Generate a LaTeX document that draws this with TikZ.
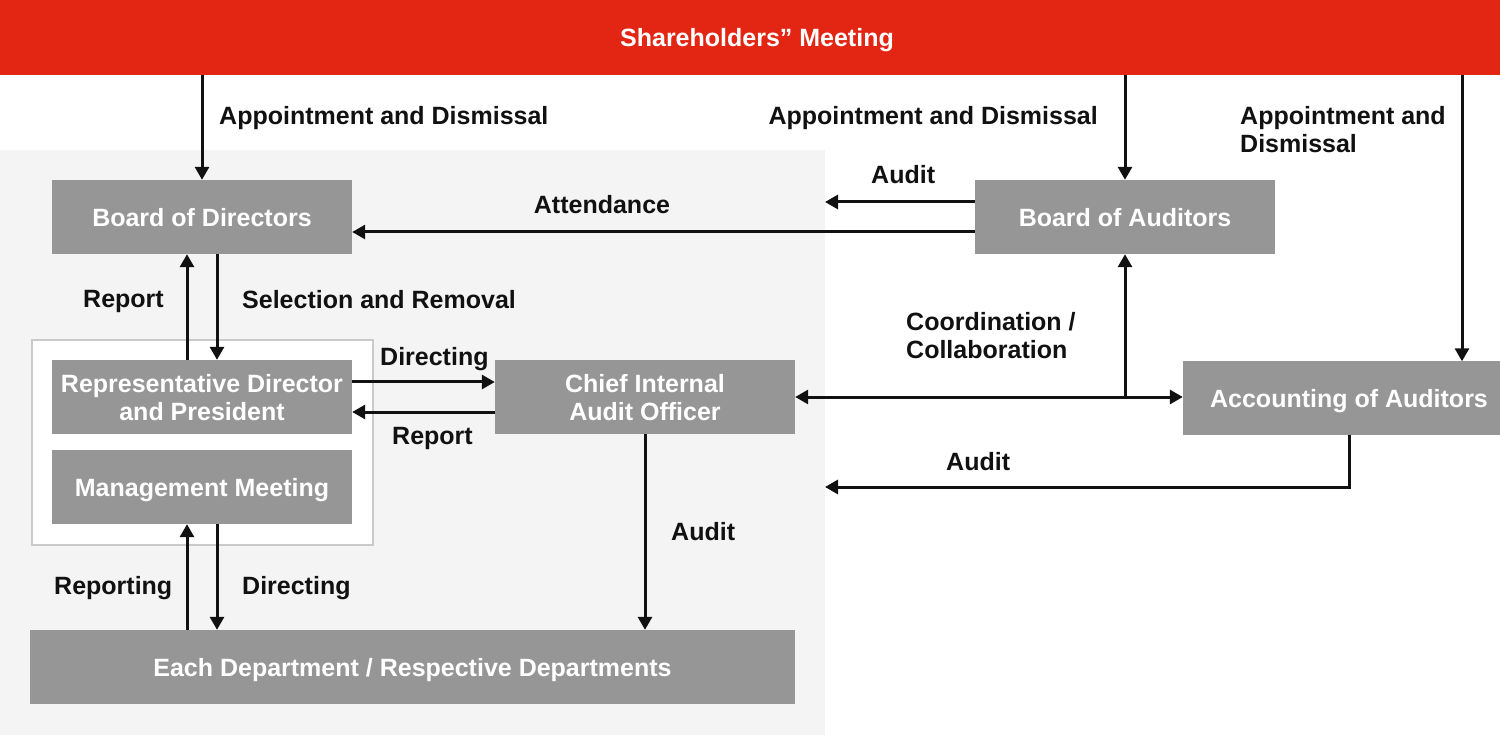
\documentclass[tikz,border=0pt]{standalone}
\usepackage{fontspec}
\setmainfont{Liberation Sans}
\usetikzlibrary{arrows.meta}
\definecolor{redbar}{HTML}{E32613}
\definecolor{boxgray}{HTML}{969696}
\definecolor{bggray}{HTML}{F4F4F4}
\definecolor{framegray}{HTML}{CACACA}
\definecolor{ink}{HTML}{111111}
\begin{document}
\begin{tikzpicture}[x=1pt,y=-1pt,
  font=\fontsize{25}{28}\selectfont\bfseries,
  box/.style={fill=boxgray,text=white,inner sep=0pt,align=center,minimum height=74pt,text depth=0pt},
  lbl/.style={text=ink,inner sep=0pt,align=left,text depth=0pt},
  arr/.style={draw=ink,line width=3pt,-{Triangle[length=13pt,width=14pt]}},
  dbl/.style={draw=ink,line width=3pt,{Triangle[length=13pt,width=14pt]}-{Triangle[length=13pt,width=14pt]}},
  ln/.style={draw=ink,line width=3pt}]
\useasboundingbox (0,0) rectangle (1500,735);
\fill[white] (0,0) rectangle (1500,735);
\fill[bggray] (0,150) rectangle (825,735);
% nodes
\node[fill=redbar,text=white,minimum width=1500pt,minimum height=75pt,inner sep=0pt,text depth=0pt] (sh) at (750,37.5) {\hspace{14pt}Shareholders” Meeting};
\node[draw=framegray,line width=2.5pt,fill=white,minimum width=341pt,minimum height=205pt,inner sep=0pt] (grp) at (202.5,442.5) {};
\node[box,minimum width=300pt] (bod) at (202,217) {Board of Directors};
\node[box,minimum width=300pt] (boa) at (1125,217) {Board of Auditors};
\node[box,minimum width=300pt] (rep) at (202,397) {Representative Director\\and President};
\node[box,minimum width=300pt] (mm) at (202,487) {Management Meeting};
\node[box,minimum width=300pt] (ciao) at (645,397) {Chief Internal\\Audit Officer};
\node[box,minimum width=317pt,minimum height=73pt] (acc) at (1341.5,398) {\hspace{15pt}Accounting of Auditors};
\node[box,minimum width=765pt] (dept) at (412.5,667) {Each Department / Respective Departments};
% coordinates
\coordinate (accin) at ([xshift=120.5pt]acc.north);
\coordinate (auditL) at (825,202);
\coordinate (auditL2) at (825,487);
\coordinate (accout) at ([xshift=7.5pt]acc.south);
\coordinate (mmL) at ([xshift=-15pt]mm.south);
\coordinate (mmR) at ([xshift=15pt]mm.south);
% connectors
\draw[arr] (bod.north |- sh.south) -- (bod.north);
\draw[arr] (boa.north |- sh.south) -- (boa.north);
\draw[arr] (accin |- sh.south) -- (accin);
\draw[arr] (boa.west |- auditL) -- (auditL);
\draw[arr] ([yshift=-15pt]boa.west) -- ([yshift=-15pt]bod.east);
\draw[arr] ([xshift=-15pt]rep.north) -- ([xshift=-15pt]bod.south);
\draw[arr] ([xshift=15pt]bod.south) -- ([xshift=15pt]rep.north);
\draw[arr] ([yshift=15pt]rep.east) -- ([yshift=15pt]ciao.west);
\draw[arr] ([yshift=-15pt]ciao.west) -- ([yshift=-15pt]rep.east);
\draw[dbl] (ciao.east) -- (ciao.east -| acc.west);
\draw[arr] (ciao.east -| boa.south) -- (boa.south);
\draw[arr] (accout) |- (auditL2);
\draw[arr] (ciao.south) -- (ciao.south |- dept.north);
\draw[arr] (mmL |- dept.north) -- (mmL);
\draw[arr] (mmR) -- (mmR |- dept.north);
% labels
\node[lbl,anchor=west] (l1) at (219,115) {Appointment and Dismissal};
\node[lbl,anchor=east] (l2) at (1098,115) {Appointment and Dismissal};
\node[lbl,anchor=west] (l3) at (1240,129) {Appointment and\\Dismissal};
\node[lbl,anchor=west] (l4) at (871,174) {Audit};
\node[lbl] (l5) at (602,204) {Attendance};
\node[lbl,anchor=west] (l6) at (83,299) {Report};
\node[lbl,anchor=west] (l7) at (242,299) {Selection and Removal};
\node[lbl,anchor=west] (l8) at (380,356) {Directing};
\node[lbl,anchor=west] (l9) at (392,436) {Report};
\node[lbl,anchor=west] (l10) at (906,335) {Coordination /\\Collaboration};
\node[lbl,anchor=west] (l11) at (946,461) {Audit};
\node[lbl,anchor=west] (l12) at (671,531) {Audit};
\node[lbl,anchor=west] (l13) at (54,585) {Reporting};
\node[lbl,anchor=west] (l14) at (242,585) {Directing};
\end{tikzpicture}
\end{document}
